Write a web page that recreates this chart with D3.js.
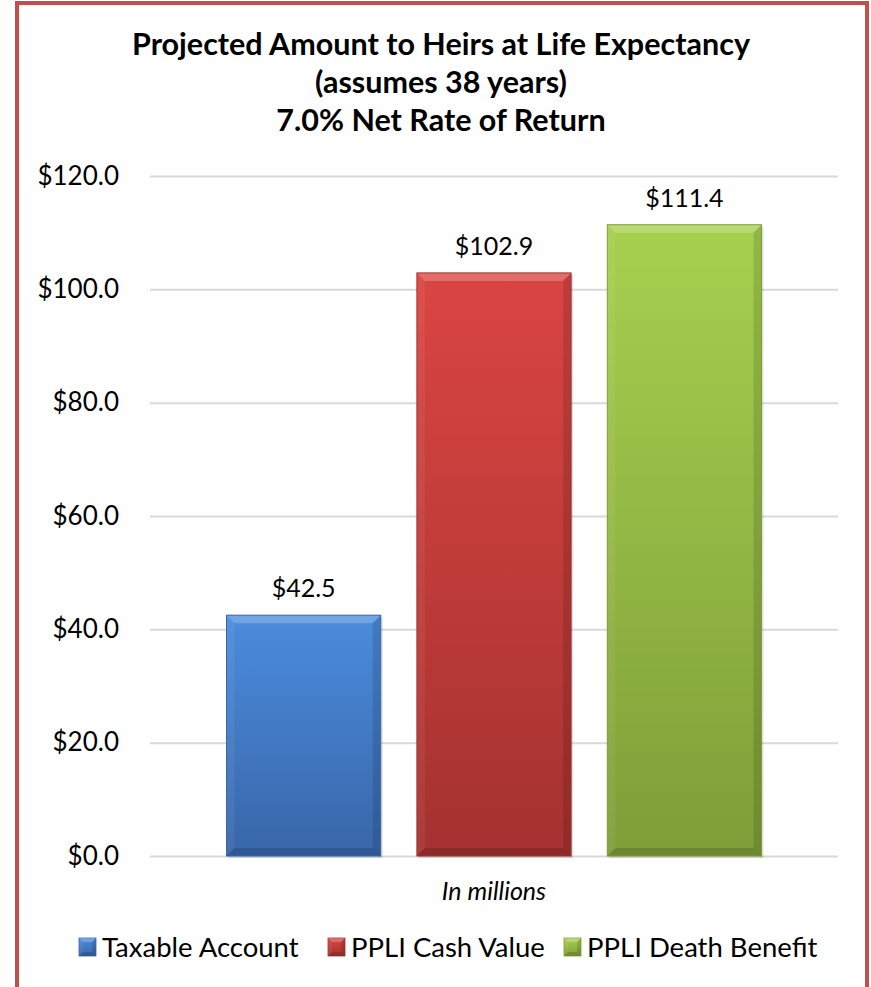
<!DOCTYPE html>
<html>
<head>
<meta charset="utf-8">
<script src="https://cdn.jsdelivr.net/npm/d3@7"></script>
<style>
  body { margin: 0; background: #fff; }
  svg text { font-family: Lato, "Open Sans", sans-serif; fill: #000; }
</style>
</head>
<body>
<svg id="main_svg" width="871" height="987"></svg>
<script>
// chart data
const titleLines = ["Projected Amount to Heirs at Life Expectancy", "(assumes 38 years)", "7.0% Net Rate of Return"];
const categories = ["In millions"];
const seriesNames = ["Taxable Account", "PPLI Cash Value", "PPLI Death Benefit"];
const seriesValues = [42.5, 102.9, 111.4];
const yTicks = [0, 20, 40, 60, 80, 100, 120];
const topColors = ["#4b8cdc", "#da4542", "#a7d04f"];
const bottomColors = ["#3866a9", "#a43230", "#7e9e38"];

let svg = d3.select("#main_svg");
let plot = { left: 150, right: 838, top: 176, bottom: 856 };

// frame
svg.append("rect")
   .attr("x", 17).attr("y", 3)
   .attr("width", 850).attr("height", 1010)
   .attr("fill", "none")
   .attr("stroke", "#c0504d")
   .attr("stroke-width", 4);

// title
svg.append("g").selectAll("text")
   .data(titleLines)
   .join("text")
   .attr("x", 441)
   .attr("y", (d, i) => 55 + i * 38)
   .attr("text-anchor", "middle")
   .style("font-size", "30.5px")
   .style("font-weight", "bold")
   .text(d => d);

let y = d3.scaleLinear().domain([0, 120]).range([plot.bottom, plot.top]);
let x0 = d3.scaleBand().domain(categories).range([plot.left, plot.right]);
let outer = 76.5;
let x1 = d3.scaleBand().domain(seriesNames)
   .range([outer, x0.bandwidth() - outer])
   .paddingInner(0.19);

// y axis with gridlines
let yAxis = svg.append("g")
   .attr("transform", "translate(" + plot.left + ",0)")
   .call(d3.axisLeft(y).tickValues(yTicks).tickFormat(d3.format("$.1f"))
           .tickSize(-(plot.right - plot.left)).tickPadding(31));
yAxis.select(".domain").remove();
yAxis.selectAll("line").attr("stroke", "#d9d9d9").attr("stroke-width", 2);
yAxis.selectAll("text")
   .style("font-family", "Lato, sans-serif")
   .style("font-size", "26px")
   .attr("fill", "#000");

// gradients
let defs = svg.append("defs");
seriesNames.forEach(function (s, i) {
    let g = defs.append("linearGradient")
       .attr("id", "grad" + i)
       .attr("x1", 0).attr("y1", 0).attr("x2", 0).attr("y2", 1);
    g.append("stop").attr("offset", "0%").attr("stop-color", topColors[i]);
    g.append("stop").attr("offset", "100%").attr("stop-color", bottomColors[i]);
});

function bevel(group, x, yTop, w, h, b) {
    // top light strip
    group.append("polygon")
       .attr("points", [[x, yTop], [x + w, yTop], [x + w - b, yTop + b], [x + b, yTop + b]].join(" "))
       .attr("fill", "#fff").attr("opacity", 0.22);
    // left side
    group.append("polygon")
       .attr("points", [[x, yTop], [x + b, yTop + b], [x + b, yTop + h - b], [x, yTop + h]].join(" "))
       .attr("fill", "#fff").attr("opacity", 0.06);
    // right side
    group.append("polygon")
       .attr("points", [[x + w, yTop], [x + w, yTop + h], [x + w - b, yTop + h - b], [x + w - b, yTop + b]].join(" "))
       .attr("fill", "#000").attr("opacity", 0.12);
    // bottom
    group.append("polygon")
       .attr("points", [[x, yTop + h], [x + w, yTop + h], [x + w - b, yTop + h - b], [x + b, yTop + h - b]].join(" "))
       .attr("fill", "#000").attr("opacity", 0.14);
}

// bars
let barsG = svg.append("g");
seriesNames.forEach(function (s, i) {
    let bx = x0(categories[0]) + x1(s);
    let bw = x1.bandwidth();
    let by = y(seriesValues[i]);
    let bh = y(0) - by;
    let g = barsG.append("g");
    // soft shadow
    g.append("rect")
       .attr("x", bx + 2).attr("y", by + 2)
       .attr("width", bw).attr("height", bh)
       .attr("fill", "#000").attr("opacity", 0.12);
    g.append("rect")
       .attr("x", bx).attr("y", by)
       .attr("width", bw).attr("height", bh)
       .attr("fill", "url(#grad" + i + ")");
    bevel(g, bx, by, bw, bh, 8);
    g.append("rect")
       .attr("x", bx).attr("y", by)
       .attr("width", bw).attr("height", bh)
       .attr("fill", "none")
       .attr("stroke", bottomColors[i]).attr("stroke-width", 1);
    // value label
    g.append("text")
       .attr("x", bx + bw / 2)
       .attr("y", by - 18)
       .attr("text-anchor", "middle")
       .style("font-size", "25px")
       .text("$" + seriesValues[i].toFixed(1));
});

// category label
svg.append("text")
   .attr("x", x0(categories[0]) + x0.bandwidth() / 2)
   .attr("y", 900)
   .attr("text-anchor", "middle")
   .style("font-size", "25px")
   .style("font-style", "italic")
   .text(categories[0]);

// legend
let legendX = [79, 328, 564];
let legend = svg.append("g");
seriesNames.forEach(function (s, i) {
    let lg = legend.append("g").attr("transform", "translate(" + legendX[i] + ",938)");
    lg.append("rect")
       .attr("width", 17).attr("height", 18)
       .attr("fill", "url(#grad" + i + ")")
       .attr("stroke", bottomColors[i]).attr("stroke-width", 0.8);
    bevel(lg, 0, 0, 17, 18, 4);
    lg.append("text")
       .attr("x", 23)
       .attr("y", 19)
       .style("font-size", "27.5px")
       .text(s);
});
</script>
</body>
</html>
